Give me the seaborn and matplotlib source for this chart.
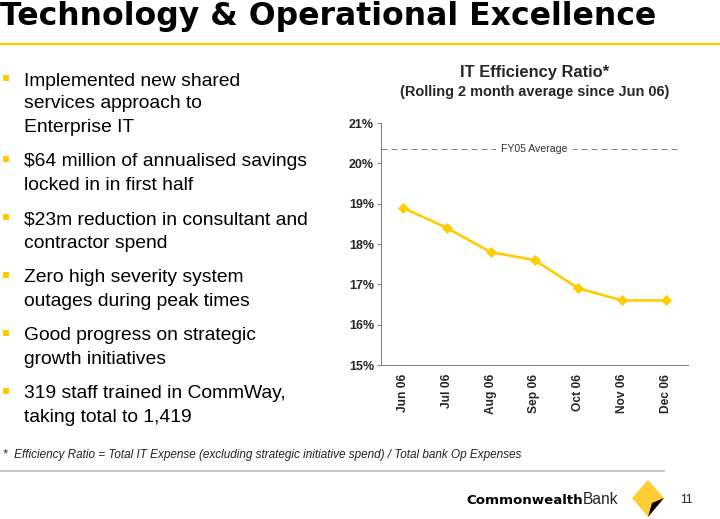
import pandas as pd
import seaborn as sns
import matplotlib.pyplot as plt
from matplotlib.patches import Polygon
from matplotlib.lines import Line2D

# Data
months = ['Jun 06', 'Jul 06', 'Aug 06', 'Sep 06', 'Oct 06', 'Nov 06', 'Dec 06']
ratio = [18.9, 18.4, 17.8, 17.6, 16.9, 16.6, 16.6]
fy05_avg = 20.35
y_ticks = [15, 16, 17, 18, 19, 20, 21]

bullets = [
    ['Implemented new shared', 'services approach to', 'Enterprise IT'],
    ['$64 million of annualised savings', 'locked in in first half'],
    ['$23m reduction in consultant and', 'contractor spend'],
    ['Zero high severity system', 'outages during peak times'],
    ['Good progress on strategic', 'growth initiatives'],
    ['319 staff trained in CommWay,', 'taking total to 1,419'],
]

df = pd.DataFrame({'month': months, 'ratio': ratio})
df['pos'] = range(len(months))

sns.set_theme(style='white')
plt.rcParams['font.family'] = ['Liberation Sans', 'DejaVu Sans']

yellow = '#FFCC00'
W, H = 720, 519
fig = plt.figure(figsize=(W / 72, H / 72), dpi=72)


def fx(px):
    return px / W


def fy(py):
    return 1 - py / H


# Slide title and rule
fig.text(fx(0), fy(25), 'Technology & Operational Excellence', fontsize=31.5,
         fontweight='bold', family='DejaVu Sans', color='black',
         va='baseline', ha='left')
fig.add_artist(Line2D([0, 1], [fy(44), fy(44)], color=yellow, lw=2.2))

# Bullet list
starts = [80, 161, 219, 277, 335, 393]
step = 23
for lines, y0 in zip(bullets, starts):
    fig.add_artist(Polygon([[fx(3), fy(y0 - 5)], [fx(9), fy(y0 - 5)],
                            [fx(9), fy(y0 + 1)], [fx(3), fy(y0 + 1)]],
                           closed=True, color=yellow, lw=0))
    for i, line in enumerate(lines):
        fig.text(fx(24), fy(y0 + 1 + i * step), line, fontsize=19.2,
                 color='black', va='center', ha='left')

# Chart
ax = fig.add_axes([fx(381), fy(365), fx(688 - 381), (365 - 123) / H])
sns.lineplot(data=df, x='pos', y='ratio', ax=ax, color=yellow, lw=2.6,
             marker='D', markersize=6.5, markeredgecolor=yellow)
ax.set_xlim(-0.5, len(months) - 0.5)
ax.set_ylim(15, 21)
ax.set_yticks(y_ticks)
ax.set_yticklabels([f'{v}%' for v in y_ticks], fontsize=12.5, fontweight='bold')
ax.set_xticks(df['pos'])
ax.set_xticklabels(months, rotation=90, fontsize=12, fontweight='bold')
ax.set_xlabel('')
ax.set_ylabel('')
ax.tick_params(axis='y', length=4, width=1, color='#808080', pad=3, left=True)
ax.tick_params(axis='x', length=0, pad=9)
for s in ['top', 'right']:
    ax.spines[s].set_visible(False)
for s in ['left', 'bottom']:
    ax.spines[s].set_color('#808080')
    ax.spines[s].set_linewidth(1)

ax.plot([-0.5, 6.27], [fy05_avg, fy05_avg], ls=(0, (6, 4)), color='#808080', lw=1)
ax.text(3.0, fy05_avg, 'FY05 Average', fontsize=10.5, ha='center', va='center',
        color='#333333', bbox=dict(facecolor='white', edgecolor='none', pad=5))

fig.text(fx(534.5), fy(73), 'IT Efficiency Ratio*', fontsize=16.5,
         fontweight='bold', ha='center', va='center')
fig.text(fx(534.5), fy(92), '(Rolling 2 month average since Jun 06)',
         fontsize=14.5, fontweight='bold', ha='center', va='center')

# Footnote and footer
fig.text(fx(3), fy(455), '*  Efficiency Ratio = Total IT Expense (excluding strategic '
         'initiative spend) / Total bank Op Expenses', fontsize=11.8,
         style='italic', color='#222222', va='center', ha='left')
fig.add_artist(Line2D([0, fx(664)], [fy(471), fy(471)], color='#C8C8C8', lw=2))

fig.text(fx(583), fy(500), 'Commonwealth', fontsize=13.4, fontweight='bold',
         family='DejaVu Sans', color='black', ha='right', va='center')
fig.text(fx(583), fy(500), 'Bank', fontsize=15.5, color='#222222', ha='left',
         va='center')
fig.add_artist(Polygon([[fx(648), fy(480)], [fx(664), fy(498)], [fx(648), fy(517)],
                        [fx(632), fy(498)]], closed=True, color='#FFCC33', lw=0))
fig.add_artist(Polygon([[fx(664), fy(498)], [fx(648), fy(517)], [fx(652), fy(503)]],
                       closed=True, color='black', lw=0))
fig.text(fx(680), fy(500), '11', fontsize=12, color='#222222', ha='left', va='center')

fig.savefig('out.png', dpi=72)
